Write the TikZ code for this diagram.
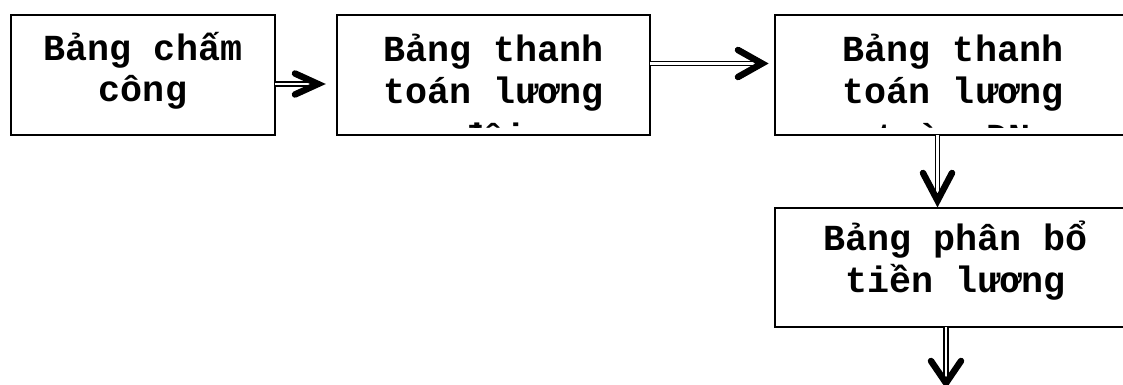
\documentclass[tikz,border=0pt]{standalone}
\usepackage{fontspec}
\newfontfamily\courfont{Liberation Mono}
\begin{document}
\begin{tikzpicture}[x=1pt,y=-1pt,
  box/.style={draw=black, line width=1.5pt, inner sep=0pt, outer sep=0pt, rectangle},
  txt/.style={font=\courfont\bfseries\fontsize{36.7}{42}\selectfont, inner sep=0pt, anchor=base},
  dbl/.style={draw=black, double=white, line width=1.6pt, double distance=2.6pt},
  head/.style={draw=black, line width=6.5pt, line cap=round, line join=miter}]
\clip (0,0) rectangle (1123,385);
% boxes
\node[box, minimum width=264pt, minimum height=120pt] (b1) at (143,75) {};
\node[box, minimum width=313pt, minimum height=120pt] (b2) at (493.5,75) {};
\node[box, minimum width=356pt, minimum height=120pt] (b3) at (953,75) {};
\node[box, minimum width=361pt, minimum height=119pt] (b4) at (955.5,267.5) {};
% texts
\node[txt] (t1a) at (143,61) {Bảng chấm};
\node[txt] (t1b) at (143,102) {công};
\begin{scope}
  \clip (b2.north west) rectangle ([yshift=8pt]b2.south east);
  \node[txt] (t2a) at (493.5,62) {Bảng thanh};
  \node[txt] (t2b) at (493.5,103) {toán lương};
  \node[txt] (t2c) at (493.5,149) {đội};
\end{scope}
\begin{scope}
  \clip (b3.north west) rectangle ([yshift=8pt]b3.south east);
  \node[txt] (t3a) at (953,62) {Bảng thanh};
  \node[txt] (t3b) at (953,103) {toán lương};
  \node[txt] (t3c) at (953,149) {toàn DN};
\end{scope}
\node[txt] (t4a) at (955.5,250) {Bảng phân bổ};
\node[txt] (t4b) at (955.5,292) {tiền lương};
% connectors
\coordinate (h1) at (318,84);
\draw[dbl] (b1.east |- h1) -- ([xshift=-5pt]h1);
\draw[head] (h1) ++(-23,-10.5) -- (h1) -- ++(-23,10.5);

\coordinate (h2) at (762,63.5);
\draw[dbl] (b2.east |- h2) -- ([xshift=-6pt]h2);
\draw[head] (h2) ++(-24,-13.5) -- (h2) -- ++(-24,13.5);

\coordinate (h3) at (937.5,200.5);
\draw[dbl] (b3.south -| h3) -- ([yshift=6pt]h3);
\draw[head] (h3) ++(-14.5,-27.5) -- (h3) -- ++(14.5,-27.5);

\coordinate (h4) at (946,383);
\draw[dbl] (b4.south -| h4) -- ([yshift=6pt]h4);
\draw[head] (h4) ++(-15,-22) -- (h4) -- ++(15,-22);
\end{tikzpicture}
\end{document}
